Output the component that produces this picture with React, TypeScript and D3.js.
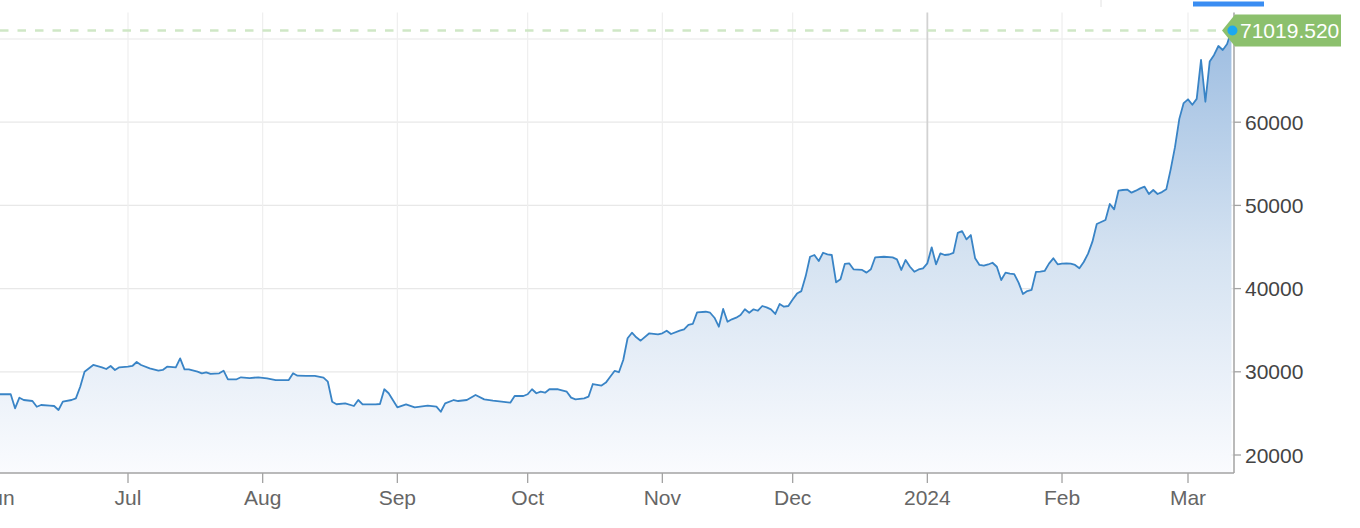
import React from "react";
import * as d3 from "d3";

// ---- data ----
const dates: string[] = [
  "2023-06-01","2023-06-04","2023-06-05","2023-06-06","2023-06-07","2023-06-09","2023-06-10","2023-06-11",
  "2023-06-13","2023-06-14","2023-06-15","2023-06-16","2023-06-18","2023-06-19","2023-06-20","2023-06-21",
  "2023-06-23","2023-06-25","2023-06-26","2023-06-27","2023-06-28","2023-06-29",
  "2023-07-01","2023-07-02","2023-07-03","2023-07-04","2023-07-06","2023-07-08","2023-07-09","2023-07-10",
  "2023-07-12","2023-07-13","2023-07-14","2023-07-15","2023-07-17","2023-07-18","2023-07-19","2023-07-20",
  "2023-07-22","2023-07-23","2023-07-24","2023-07-26","2023-07-27","2023-07-29","2023-07-31",
  "2023-08-02","2023-08-04","2023-08-07","2023-08-08","2023-08-09","2023-08-11","2023-08-13","2023-08-15",
  "2023-08-16","2023-08-17","2023-08-18","2023-08-20","2023-08-22","2023-08-23","2023-08-24","2023-08-27",
  "2023-08-28","2023-08-29","2023-08-30",
  "2023-09-01","2023-09-03","2023-09-05","2023-09-08","2023-09-10","2023-09-11","2023-09-12","2023-09-14",
  "2023-09-15","2023-09-17","2023-09-19","2023-09-21","2023-09-23","2023-09-25","2023-09-27","2023-09-28",
  "2023-09-30",
  "2023-10-01","2023-10-02","2023-10-03","2023-10-04","2023-10-05","2023-10-06","2023-10-08","2023-10-10",
  "2023-10-11","2023-10-12","2023-10-14","2023-10-15","2023-10-16","2023-10-18","2023-10-19","2023-10-20",
  "2023-10-21","2023-10-22","2023-10-23","2023-10-24","2023-10-25","2023-10-26","2023-10-27","2023-10-29",
  "2023-10-31",
  "2023-11-01","2023-11-02","2023-11-03","2023-11-05","2023-11-06","2023-11-07","2023-11-08","2023-11-09",
  "2023-11-11","2023-11-12","2023-11-13","2023-11-14","2023-11-15","2023-11-16","2023-11-17","2023-11-18",
  "2023-11-19","2023-11-20","2023-11-21","2023-11-22","2023-11-23","2023-11-24","2023-11-25","2023-11-26",
  "2023-11-27","2023-11-28","2023-11-29","2023-11-30",
  "2023-12-01","2023-12-02","2023-12-03","2023-12-04","2023-12-05","2023-12-06","2023-12-07","2023-12-08",
  "2023-12-09","2023-12-10","2023-12-11","2023-12-12","2023-12-13","2023-12-14","2023-12-15","2023-12-17",
  "2023-12-18","2023-12-19","2023-12-20","2023-12-22","2023-12-24","2023-12-25","2023-12-26","2023-12-27",
  "2023-12-28","2023-12-29","2023-12-30","2023-12-31",
  "2024-01-01","2024-01-02","2024-01-03","2024-01-04","2024-01-05","2024-01-06","2024-01-07","2024-01-08",
  "2024-01-09","2024-01-10","2024-01-11","2024-01-12","2024-01-13","2024-01-14","2024-01-15","2024-01-16",
  "2024-01-17","2024-01-18","2024-01-19","2024-01-20","2024-01-21","2024-01-22","2024-01-23","2024-01-24",
  "2024-01-25","2024-01-26","2024-01-27","2024-01-28","2024-01-29","2024-01-30","2024-01-31",
  "2024-02-01","2024-02-02","2024-02-03","2024-02-04","2024-02-05","2024-02-06","2024-02-07","2024-02-08",
  "2024-02-09","2024-02-10","2024-02-11","2024-02-12","2024-02-13","2024-02-14","2024-02-15","2024-02-16",
  "2024-02-17","2024-02-18","2024-02-19","2024-02-20","2024-02-21","2024-02-22","2024-02-23","2024-02-24",
  "2024-02-25","2024-02-26","2024-02-27","2024-02-28","2024-02-29",
  "2024-03-01","2024-03-02","2024-03-03","2024-03-04","2024-03-05","2024-03-06","2024-03-07","2024-03-08",
  "2024-03-09","2024-03-10","2024-03-11",
];

const prices: number[] = [
  27300,27300,25610,26890,26610,26490,25800,26010,
  25930,25890,25410,26410,26610,26810,28210,30010,
  30820,30540,30340,30700,30220,30540,
  30610,30700,31180,30820,30420,30130,30220,30610,
  30540,31620,30300,30300,30010,29820,29940,29740,
  29820,30130,29100,29100,29340,29250,29340,
  29220,29010,29010,29820,29530,29500,29500,29290,
  28810,26400,26100,26210,25890,26610,26090,26090,
  26130,27900,27420,
  25730,26090,25730,25930,25810,25200,26210,26610,
  26490,26610,27210,26690,26530,26410,26290,27090,
  27090,
  27300,27900,27420,27610,27490,27900,27900,27610,
  26900,26690,26810,27010,28530,28350,28700,29400,
  30100,29950,31420,34030,34700,34150,33740,34630,
  34510,
  34630,34940,34540,34940,35110,35630,35750,37150,
  37220,37100,36500,35420,37550,36020,36310,36500,
  36830,37510,37100,37510,37340,37910,37750,37510,
  36950,38150,37820,37910,
  38700,39400,39700,41500,43830,44040,43320,44310,
  44120,44040,40760,41120,42960,43040,42320,42240,
  41920,42320,43760,43830,43760,43520,42240,43440,
  42630,42030,42300,42440,
  43040,44960,42920,44240,44040,44100,44300,46700,
  46900,45920,46440,43640,42840,42750,42900,43110,
  42630,41030,41920,41800,41750,40710,39350,39710,
  39850,42000,42030,42120,43000,43640,42920,
  43000,43040,43000,42840,42440,43200,44200,45640,
  47760,48000,48250,50170,49530,51770,51850,51900,
  51530,51770,52050,52250,51370,51850,51370,51600,
  51930,54300,57000,60400,62300,
  62750,62100,62800,67500,62460,67300,68080,69160,
  68680,69400,71019.52,
];

const yTickValues: number[] = [20000, 30000, 40000, 50000, 60000, 70000];
const yTickLabels: number[] = [20000, 30000, 40000, 50000, 60000];
const lastPriceLabel = "71019.520";

// ---- layout ----
const W = 1360;
const H = 528;
const plotR = 1234;
const plotT = 12.5;
const plotB = 473;
const FONT = "'Liberation Sans', Arial, Helvetica, sans-serif";

type P = { t: Date; v: number };

export default function App() {
  const parse = d3.timeParse("%Y-%m-%d");
  const pts: P[] = dates.map((d, i) => ({ t: parse(d) as Date, v: prices[i] }));

  const base = d3
    .scaleTime()
    .domain([new Date(2023, 6, 1), new Date(2024, 2, 1)])
    .range([128, 1188]);
  const x = d3
    .scaleTime()
    .domain([base.invert(-4), base.invert(plotR)])
    .range([-4, plotR]);
  const y = d3.scaleLinear().domain([20000, 70000]).range([455, 39]);

  const months = d3.timeMonth.range(
    d3.timeMonth.ceil(x.domain()[0]),
    x.domain()[1]
  );
  const fmtMonth = d3.timeFormat("%b");
  const fmtYear = d3.timeFormat("%Y");
  const fmt = (m: Date) => (m.getMonth() === 0 ? fmtYear(m) : fmtMonth(m));

  const area = d3
    .area<P>()
    .x((d) => x(d.t))
    .y0(plotB)
    .y1((d) => y(d.v));
  const line = d3
    .line<P>()
    .x((d) => x(d.t))
    .y((d) => y(d.v));

  const last = pts[pts.length - 1];
  const lx = x(last.t);
  const ly = y(last.v);
  const tipX = plotR - 12;
  const boxL = plotR + 1;
  const boxR = plotR + 107;

  return (
    <div style={{ position: "absolute", left: 0, top: 0, width: W, height: H, background: "#fff" }}>
      <svg width={W} height={H} style={{ display: "block", fontFamily: FONT }}>
        <defs>
          <clipPath id="plotClip">
            <rect x={0} y={plotT} width={plotR} height={plotB - plotT} />
          </clipPath>
          <linearGradient id="areaGrad" gradientUnits="userSpaceOnUse" x1={0} y1={ly} x2={0} y2={plotB}>
            <stop offset="0" stopColor="#9dbde1" />
            <stop offset="0.5" stopColor="#d4e2f1" />
            <stop offset="1" stopColor="#fafbfe" />
          </linearGradient>
        </defs>

        {/* top UI bits */}
        <line x1={1101} x2={1101} y1={0} y2={7} stroke="#e2e2e2" strokeWidth={1} />
        <rect x={1193} y={1.5} width={71} height={5} fill="#3a8df2" />

        {/* horizontal grid */}
        {yTickValues.map((v) => (
          <line key={"hg" + v} x1={0} x2={plotR} y1={y(v)} y2={y(v)} stroke="#e8e8e8" strokeWidth={1.2} />
        ))}
        {/* vertical grid */}
        {months.map((m) => {
          const isYear = m.getMonth() === 0;
          return (
            <line
              key={"vg" + m.getTime()}
              x1={x(m)}
              x2={x(m)}
              y1={plotT}
              y2={plotB}
              stroke={isYear ? "#d2d2d2" : "#eeeeee"}
              strokeWidth={isYear ? 1.8 : 1.2}
            />
          );
        })}

        {/* area + line */}
        <g clipPath="url(#plotClip)">
          <path d={area(pts) || ""} fill="url(#areaGrad)" />
          <path d={line(pts) || ""} fill="none" stroke="#3984c6" strokeWidth={1.8} strokeLinejoin="round" />
        </g>

        {/* last price dashed line */}
        <line x1={0} x2={tipX} y1={ly} y2={ly} stroke="#cfe7c6" strokeWidth={2.5} strokeDasharray="8.5 9" />

        {/* x axis */}
        <line x1={0} x2={plotR} y1={plotB} y2={plotB} stroke="#a3a3a3" strokeWidth={1.5} />
        {months.map((m) => (
          <g key={"xt" + m.getTime()}>
            <line x1={x(m)} x2={x(m)} y1={plotB} y2={plotB + 10} stroke="#a3a3a3" strokeWidth={1.3} />
            <text x={x(m)} y={505} textAnchor="middle" fontSize={21} fill="#666">
              {fmt(m)}
            </text>
          </g>
        ))}

        {/* y axis */}
        <line x1={plotR} x2={plotR} y1={plotT} y2={plotB} stroke="#a3a3a3" strokeWidth={1.5} />
        {yTickLabels.map((v) => (
          <g key={"yt" + v}>
            <line x1={plotR} x2={plotR + 7} y1={y(v)} y2={y(v)} stroke="#a3a3a3" strokeWidth={1.3} />
            <text x={plotR + 11} y={y(v) + 7.5} fontSize={21} fill="#444">
              {d3.format("d")(v)}
            </text>
          </g>
        ))}

        {/* last price label */}
        <path
          d={`M${tipX},${ly} L${boxL},${ly - 16} L${boxR},${ly - 16} L${boxR},${ly + 16} L${boxL},${ly + 16} Z`}
          fill="#8cc06d"
        />
        <circle cx={lx + 1} cy={ly} r={5} fill="#1ca8f0" />
        <text x={plotR + 6} y={ly + 7.5} fontSize={21} fill="#ffffff">
          {lastPriceLabel}
        </text>
      </svg>
    </div>
  );
}
